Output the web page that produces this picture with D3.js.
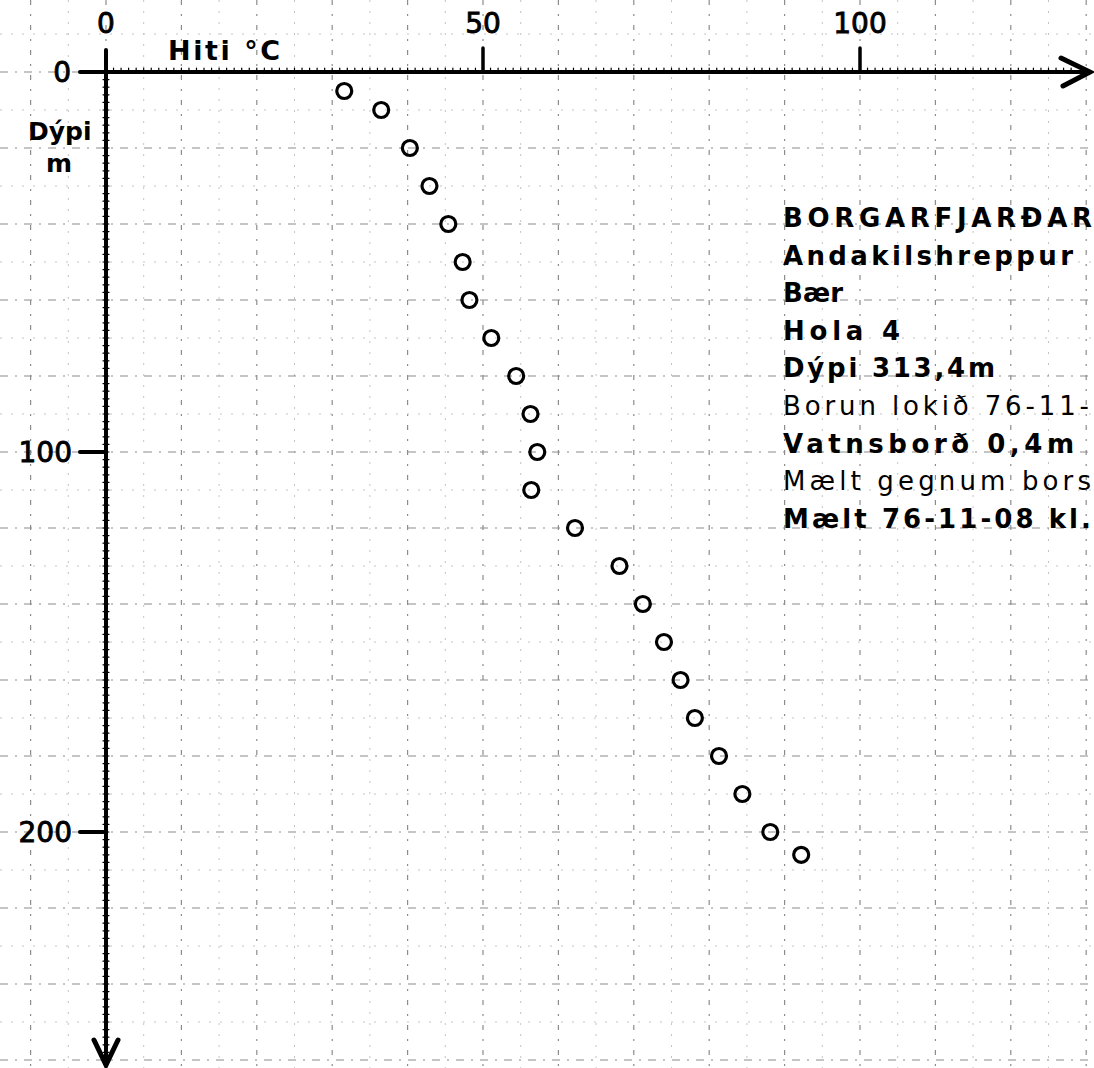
<!doctype html>
<html>
<head>
<meta charset="utf-8">
<script src="https://cdn.jsdelivr.net/npm/d3@7"></script>
<style>
  body { margin: 0; background: #fff; }
  svg { display: block; }
  text { font-family: "DejaVu Sans", Verdana, sans-serif; fill: #000; }
  .xl, .yl { stroke: #000; stroke-width: 0.9px; }
</style>
</head>
<body>
<svg width="1094" height="1068"></svg>
<script>
// measured points: temperature (°C) vs depth (m)
var temps  = [31.6, 36.5, 40.3, 42.9, 45.4, 47.3, 48.2, 51.1, 54.4, 56.3, 57.2,
              56.4, 62.2, 68.1, 71.2, 74.0, 76.2, 78.1, 81.3, 84.4, 88.1, 92.2];
var depths = [5, 10, 20, 30, 40, 50, 60, 70, 80, 90, 100,
              110, 120, 130, 140, 150, 160, 170, 180, 190, 200, 206];

var xTicks = [0, 50, 100];
var yTicks = [0, 100, 200];
var xTitle = "Hiti °C";
var yTitle = ["Dýpi", "m"];

var infoLines = ["BORGARFJARÐAR", "Andakilshreppur", "Bær", "Hola 4", "Dýpi 313,4m",
                 "Borun lokið 76-11-", "Vatnsborð 0,4m", "Mælt gegnum bors", "Mælt 76-11-08 kl."];
var infoWidths = [309, 290, 60, 117, 212, 306, 291, 308, 308];
var infoBold   = [true, true, true, true, true, false, true, false, true];

var svg = d3.select("svg"),
    W = +svg.attr("width"),
    H = +svg.attr("height");

var x = d3.scaleLinear().domain([0, 100]).range([106, 860]);
var y = d3.scaleLinear().domain([0, 200]).range([72, 832]);

var xMin = x.invert(0), xMax = x.invert(W),
    yMin = y.invert(0), yMax = y.invert(H);

// graph paper grid
var grid = svg.append("g");
d3.range(Math.ceil(xMin / 5) * 5, xMax, 5).forEach(function(v) {
  var major = v % 10 === 0;
  grid.append("line")
      .attr("x1", x(v)).attr("x2", x(v))
      .attr("y1", 0).attr("y2", H)
      .attr("stroke", major ? "#8c8c8c" : "#c4c4c4")
      .attr("stroke-width", major ? 1.2 : 1)
      .attr("stroke-dasharray", major ? "5,9,2,9" : "2,9");
});
d3.range(Math.ceil(yMin / 10) * 10, yMax, 10).forEach(function(v) {
  var major = v % 20 === 0;
  grid.append("line")
      .attr("x1", 0).attr("x2", W)
      .attr("y1", y(v)).attr("y2", y(v))
      .attr("stroke", major ? "#8c8c8c" : "#c4c4c4")
      .attr("stroke-width", major ? 1.2 : 1)
      .attr("stroke-dasharray", major ? "8,7,2,7" : "2,9");
});

// axes
var ax = svg.append("g").attr("stroke", "#000").attr("stroke-linecap", "round");

// x axis with arrow
ax.append("line").attr("x1", 83).attr("x2", 1088)
  .attr("y1", y(0)).attr("y2", y(0)).attr("stroke-width", 4);
ax.append("polyline")
  .attr("points", [[1061, y(0) - 14], [1090, y(0)], [1063, y(0) + 14]].join(" "))
  .attr("fill", "none").attr("stroke-width", 5);
d3.range(1, 129, 1).forEach(function(v) {
  ax.append("line").attr("x1", x(v)).attr("x2", x(v))
    .attr("y1", y(0)).attr("y2", y(0) - 4).attr("stroke-width", 1.2);
});
xTicks.filter(function(d) { return d > 0; }).forEach(function(v) {
  ax.append("line").attr("x1", x(v)).attr("x2", x(v))
    .attr("y1", y(0)).attr("y2", y(0) - 24).attr("stroke-width", 3.5);
});

// y axis with arrow
ax.append("line").attr("x1", x(0)).attr("x2", x(0))
  .attr("y1", 50).attr("y2", 1062).attr("stroke-width", 4);
ax.append("polyline")
  .attr("points", [[x(0) - 12, 1040], [x(0), 1065], [x(0) + 12, 1040]].join(" "))
  .attr("fill", "none").attr("stroke-width", 5);
d3.range(2, 262, 2).forEach(function(v) {
  ax.append("line").attr("x1", x(0) - 3).attr("x2", x(0) + 3)
    .attr("y1", y(v)).attr("y2", y(v)).attr("stroke-width", 1.2);
});
yTicks.forEach(function(v) {
  ax.append("line").attr("x1", 80).attr("x2", x(0))
    .attr("y1", y(v)).attr("y2", y(v)).attr("stroke-width", 4);
});

// tick labels
svg.selectAll(".xl").data(xTicks).enter().append("text")
   .attr("class", "xl")
   .attr("x", function(d) { return x(d); })
   .attr("y", 33)
   .attr("text-anchor", "middle")
   .attr("font-size", 28)
   .text(function(d) { return d; });

svg.selectAll(".yl").data(yTicks).enter().append("text")
   .attr("class", "yl")
   .attr("x", function(d) { return d === 0 ? 71 : 72; })
   .attr("y", function(d) { return y(d) + 10; })
   .attr("text-anchor", "end")
   .attr("font-size", 28)
   .text(function(d) { return d; });

// axis titles
svg.append("text").attr("x", 168).attr("y", 60)
   .attr("font-size", 27).attr("font-weight", "bold")
   .attr("textLength", 112).attr("lengthAdjust", "spacing")
   .text(xTitle);
svg.append("text").attr("x", 28).attr("y", 140)
   .attr("font-size", 25).attr("font-weight", "bold")
   .text(yTitle[0]);
svg.append("text").attr("x", 59).attr("y", 172)
   .attr("text-anchor", "middle")
   .attr("font-size", 25).attr("font-weight", "bold")
   .text(yTitle[1]);

// data circles
svg.append("g").selectAll("circle")
   .data(temps.map(function(t, i) { return [t, depths[i]]; }))
   .enter().append("circle")
   .attr("cx", function(d) { return x(d[0]); })
   .attr("cy", function(d) { return y(d[1]); })
   .attr("r", 7.5)
   .attr("fill", "none")
   .attr("stroke", "#000")
   .attr("stroke-width", 3.2);

// info block
svg.append("g").selectAll("text")
   .data(infoLines)
   .enter().append("text")
   .attr("x", 783)
   .attr("y", function(d, i) { return 227 + i * 37.6; })
   .attr("font-size", 26)
   .attr("font-weight", function(d, i) { return infoBold[i] ? "bold" : "normal"; })
   .attr("textLength", function(d, i) { return infoWidths[i]; })
   .attr("lengthAdjust", "spacing")
   .text(function(d) { return d; });
</script>
</body>
</html>
